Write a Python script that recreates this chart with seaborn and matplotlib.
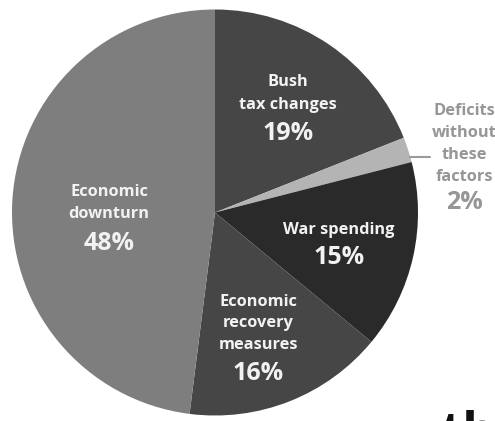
import matplotlib
matplotlib.use("Agg")
import matplotlib.pyplot as plt
import seaborn as sns

# ---- data ----
categories = ["Bush tax changes", "Deficits without these factors", "War spending",
              "Economic recovery measures", "Economic downturn"]
shares = [19, 2, 15, 16, 48]
label_lines = [["Bush", "tax changes"],
               ["Deficits", "without", "these", "factors"],
               ["War spending"],
               ["Economic", "recovery", "measures"],
               ["Economic", "downturn"]]
pct_labels = ["19%", "2%", "15%", "16%", "48%"]

# ---- styles / positions ----
slice_colors = ["#464646", "#b4b4b4", "#2a2a2a", "#464646", "#7e7e7e"]
text_colors = ["#f2f2f2", "#969696", "#f2f2f2", "#f2f2f2", "#f2f2f2"]
# (x center px, y of each line px, y of percent px)
text_pos = [(288, [82, 105], 133),
            (464, [111, 133, 155, 177], 202),
            (339, [230], 258),
            (258, [302, 323, 345], 373),
            (109, [192, 214], 243)]

sns.set_theme(style="white")
plt.rcParams["font.family"] = ["Open Sans", "DejaVu Sans"]

W, H = 495, 421
fig = plt.figure(figsize=(W / 100, H / 100), dpi=100)
fig.patch.set_facecolor("white")

cx, cy, r = 215, 212.5, 203
ax = fig.add_axes([(cx - r) / W, (H - cy - r) / H, 2 * r / W, 2 * r / H])
ax.pie(shares, colors=slice_colors, startangle=90, counterclock=False,
       radius=1, wedgeprops=dict(linewidth=0))
ax.set_xlim(-1, 1)
ax.set_ylim(-1, 1)
ax.set_aspect("equal")
ax.axis("off")

for (x, ys, py), lines, pct, col in zip(text_pos, label_lines, pct_labels, text_colors):
    for line, y in zip(lines, ys):
        fig.text(x / W, 1 - y / H, line, ha="center", va="center",
                 fontsize=11.8, fontweight="bold", color=col)
    fig.text(x / W, 1 - py / H, pct, ha="center", va="center",
             fontsize=18, fontweight="bold", color=col)

# leader line for the small slice
fig.add_artist(plt.Line2D([410 / W, 430 / W], [1 - 157 / H, 1 - 157 / H],
                          color="#9a9a9a", linewidth=1.5))

# cut-off logo fragment at bottom right
fig.text(441 / W, 1 - 448 / H, "th", ha="left", va="baseline",
         fontsize=37, fontweight="bold", color="#111111")

fig.savefig("out.png", dpi=100, facecolor="white")
